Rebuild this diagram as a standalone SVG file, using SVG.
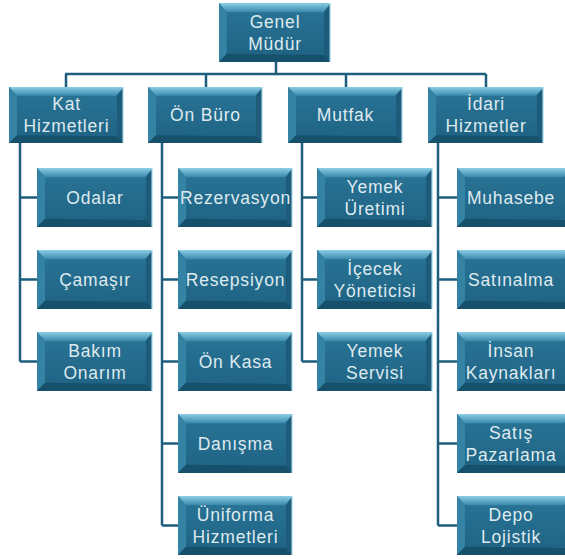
<svg xmlns="http://www.w3.org/2000/svg" xmlns:xlink="http://www.w3.org/1999/xlink" width="565" height="559" viewBox="0 0 565 559">
<style>
.lbl{font-family:"Liberation Sans","Arial",sans-serif;font-size:17.5px;letter-spacing:0.8px;fill:#DFEAEE;text-anchor:middle}
.con{fill:none;stroke:#1E5E7C;stroke-width:2.5}
</style>
<defs>
<linearGradient id="topg" x1="0" y1="0" x2="0" y2="1">
<stop offset="0" stop-color="#8BCDE4"/>
<stop offset="1" stop-color="#3A8AAD"/>
</linearGradient>
<linearGradient id="faceg" x1="0" y1="0" x2="0" y2="1">
<stop offset="0" stop-color="#2A7597"/>
<stop offset="1" stop-color="#1E6283"/>
</linearGradient>
<symbol id="box" viewBox="0 0 115 58" preserveAspectRatio="none">
<rect x="0" y="0" width="115" height="58" fill="url(#faceg)"/>
<polygon points="0,0 115,0 107,9 8,9" fill="url(#topg)"/>
<polygon points="0,0 8,9 8,50 0,58" fill="#3482A4"/>
<polygon points="115,0 115,58 108,51 108,9" fill="#1C5B79"/>
<polygon points="0,58 8,50 108,51 115,58" fill="#17506B"/>
<rect x="113.5" y="0" width="1.5" height="58" fill="#C4E8F3"/>
</symbol>
</defs>
<g id="connectors">
<path class="con" d="M276 62V74M65 74H486M66 74V87M206 74V87M346 74V87M486 74V87"/>
<path class="con" d="M20 143V361.5M20 197.5H37M20 279.5H37M20 361.5H37"/>
<path class="con" d="M162 143V525.5M162 197.5H178M162 279.5H178M162 361.5H178M162 443.5H178M162 525.5H178"/>
<path class="con" d="M302 143V361.5M302 197.5H317M302 279.5H317M302 361.5H317"/>
<path class="con" d="M438 143V525.5M438 197.5H457M438 279.5H457M438 361.5H457M438 443.5H457M438 525.5H457"/>
</g>
<g id="genel-mudur"><use xlink:href="#box" x="219" y="3" width="112" height="59"/><text class="lbl" x="275" y="27.5">Genel</text><text class="lbl" x="275" y="49.5">Müdür</text></g>
<g id="kat-hizmetleri"><use xlink:href="#box" x="9" y="87" width="115" height="56"/><text class="lbl" x="66.5" y="109.5">Kat</text><text class="lbl" x="66.5" y="131.5">Hizmetleri</text></g>
<g id="on-buro"><use xlink:href="#box" x="148" y="87" width="115" height="56"/><text class="lbl" x="205.5" y="121">Ön Büro</text></g>
<g id="mutfak"><use xlink:href="#box" x="288" y="87" width="115" height="56"/><text class="lbl" x="345.5" y="121">Mutfak</text></g>
<g id="idari-hizmetler"><use xlink:href="#box" x="428" y="87" width="116" height="56"/><text class="lbl" x="486" y="109.5">İdari</text><text class="lbl" x="486" y="131.5">Hizmetler</text></g>

<g id="odalar"><use xlink:href="#box" x="37" y="168" width="116" height="59"/><text class="lbl" x="95" y="203.5">Odalar</text></g>
<g id="camasir"><use xlink:href="#box" x="37" y="250" width="116" height="59"/><text class="lbl" x="95" y="285.5">Çamaşır</text></g>
<g id="bakim-onarim"><use xlink:href="#box" x="37" y="332" width="116" height="59"/><text class="lbl" x="95" y="356.5">Bakım</text><text class="lbl" x="95" y="378.5">Onarım</text></g>

<g id="rezervasyon"><use xlink:href="#box" x="178" y="168" width="115" height="59"/><text class="lbl" x="235.5" y="203.5">Rezervasyon</text></g>
<g id="resepsiyon"><use xlink:href="#box" x="178" y="250" width="115" height="59"/><text class="lbl" x="235.5" y="285.5">Resepsiyon</text></g>
<g id="on-kasa"><use xlink:href="#box" x="178" y="332" width="115" height="59"/><text class="lbl" x="235.5" y="367.5">Ön Kasa</text></g>
<g id="danisma"><use xlink:href="#box" x="178" y="414" width="115" height="59"/><text class="lbl" x="235.5" y="449.5">Danışma</text></g>
<g id="uniforma-hizmetleri"><use xlink:href="#box" x="178" y="496" width="115" height="59"/><text class="lbl" x="235.5" y="520.5">Üniforma</text><text class="lbl" x="235.5" y="542.5">Hizmetleri</text></g>

<g id="yemek-uretimi"><use xlink:href="#box" x="317" y="168" width="116" height="59"/><text class="lbl" x="375" y="192.5">Yemek</text><text class="lbl" x="375" y="214.5">Üretimi</text></g>
<g id="icecek-yoneticisi"><use xlink:href="#box" x="317" y="250" width="116" height="59"/><text class="lbl" x="375" y="274.5">İçecek</text><text class="lbl" x="375" y="296.5">Yöneticisi</text></g>
<g id="yemek-servisi"><use xlink:href="#box" x="317" y="332" width="116" height="59"/><text class="lbl" x="375" y="356.5">Yemek</text><text class="lbl" x="375" y="378.5">Servisi</text></g>

<g id="muhasebe"><use xlink:href="#box" x="457" y="168" width="115" height="59"/><text class="lbl" x="511" y="203.5">Muhasebe</text></g>
<g id="satinalma"><use xlink:href="#box" x="457" y="250" width="115" height="59"/><text class="lbl" x="511" y="285.5">Satınalma</text></g>
<g id="insan-kaynaklari"><use xlink:href="#box" x="457" y="332" width="115" height="59"/><text class="lbl" x="511" y="356.5">İnsan</text><text class="lbl" x="511" y="378.5">Kaynakları</text></g>
<g id="satis-pazarlama"><use xlink:href="#box" x="457" y="414" width="115" height="59"/><text class="lbl" x="511" y="438.5">Satış</text><text class="lbl" x="511" y="460.5">Pazarlama</text></g>
<g id="depo-lojistik"><use xlink:href="#box" x="457" y="496" width="115" height="59"/><text class="lbl" x="511" y="520.5">Depo</text><text class="lbl" x="511" y="542.5">Lojistik</text></g>
</svg>
